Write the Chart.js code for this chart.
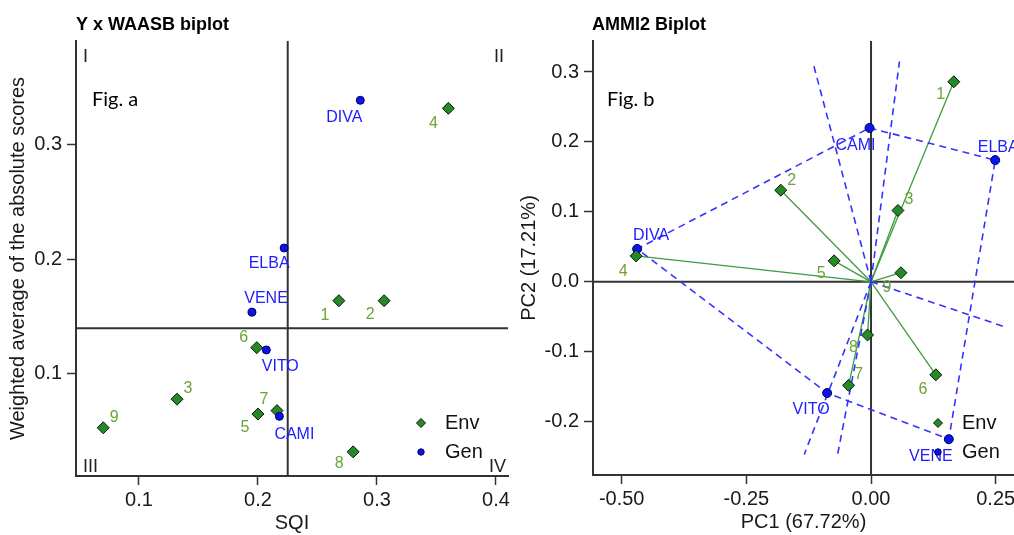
<!DOCTYPE html>
<html>
<head>
<meta charset="utf-8">
<script src="https://cdn.jsdelivr.net/npm/chart.js@4.4.1/dist/chart.umd.min.js"></script>
<style>
  html, body { margin: 0; padding: 0; background: #fff; overflow: hidden; }
  #wrap { position: relative; width: 1014px; height: 535px; overflow: hidden; }
  #left { position: absolute; left: 0; top: 0; }
  #right { position: absolute; left: 512px; top: 0; }
</style>
</head>
<body>
<div id="wrap">
  <canvas id="left" width="520" height="535"></canvas>
  <canvas id="right" width="540" height="535"></canvas>
</div>
<script>
/* ---------- Fig. a : Y x WAASB biplot ---------- */
const genNames = ['CAMI', 'DIVA', 'ELBA', 'VENE', 'VITO'];
const envNames = ['1', '2', '3', '4', '5', '6', '7', '8', '9'];

const genSQI   = [0.218, 0.286, 0.222, 0.195, 0.207];
const genWAASB = [0.063, 0.339, 0.210, 0.154, 0.121];
const envSQI   = [0.268, 0.306, 0.132, 0.360, 0.200, 0.199, 0.216, 0.280, 0.070];
const envWAASB = [0.164, 0.164, 0.078, 0.332, 0.065, 0.123, 0.068, 0.032, 0.053];
const meanSQI = 0.225;
const meanWAASB = 0.140;

const sqiTicks = [0.1, 0.2, 0.3, 0.4];
const sqiTickLabels = ['0.1', '0.2', '0.3', '0.4'];
const waasbTicks = [0.1, 0.2, 0.3];
const waasbTickLabels = ['0.1', '0.2', '0.3'];
const quadrantLabels = ['I', 'II', 'III', 'IV'];

/* ---------- Fig. b : AMMI2 biplot ---------- */
const genPC1 = [-0.003, -0.469, 0.249, 0.156, -0.088];
const genPC2 = [0.220, 0.047, 0.174, -0.225, -0.159];
const envPC1 = [0.166, -0.181, 0.054, -0.471, -0.074, 0.130, -0.045, -0.007, 0.060];
const envPC2 = [0.286, 0.131, 0.102, 0.037, 0.030, -0.133, -0.148, -0.076, 0.013];
const hullOrder = ['CAMI', 'ELBA', 'VENE', 'VITO', 'DIVA', 'CAMI'];
const rayPC1 = [0.057, -0.117, -0.134, -0.067, 0.271];
const rayPC2 = [0.315, 0.315, -0.247, -0.247, -0.065];

const pc1Ticks = [-0.5, -0.25, 0, 0.25];
const pc1TickLabels = ['-0.50', '-0.25', '0.00', '0.25'];
const pc2Ticks = [-0.2, -0.1, 0, 0.1, 0.2, 0.3];
const pc2TickLabels = ['-0.2', '-0.1', '0.0', '0.1', '0.2', '0.3'];

// label offsets (text centre relative to the marker, px)
const leftGenOffsets = [[15, 18], [-16, 17], [-15, 16], [14, -14], [14, 17]];
const leftEnvOffsets = [[-14, 15], [-14, 14], [11, -11], [-15, 15], [-13, 14], [-13, -10], [-13, -11], [-14, 12], [11, -10]];
const rightGenOffsets = [[-14, 18], [14, -13], [3, -13], [-18, 17], [-16, 17]];
const rightEnvOffsets = [[-13, 13], [11, -10], [11, -11], [-13, 16], [-13, 13], [-13, 15], [10, -11], [-14, 13], [-14, 15]];

const FONT = "Arial, 'Liberation Sans', sans-serif";
const GREEN = '#238b23';
const ENV_TXT = '#6aa33a';
const GEN_TXT = '#2020ff';
const BLUE = '#0a14f0';
const AXIS = '#333';

Chart.defaults.font.family = FONT;
Chart.defaults.animation = false;

function axis(o) {
  return {
    type: 'linear',
    min: o.min,
    max: o.max,
    afterBuildTicks: s => { s.ticks = o.ticks.map(v => ({ value: v })); },
    afterFit: s => {
      if (o.width) s.width = o.width;
      if (o.height) s.height = o.height;
    },
    ticks: {
      callback: (v) => o.labels[o.ticks.findIndex(t => Math.abs(t - v) < 1e-9)],
      color: '#1a1a1a', font: { family: FONT, size: 20 }, padding: o.pad,
      maxRotation: 0, autoSkip: false
    },
    grid: { drawOnChartArea: false, drawTicks: true, tickLength: 9, tickColor: AXIS, tickWidth: 1.5 },
    border: { display: true, color: AXIS, width: 2 },
    title: { display: true, text: o.title, color: '#1a1a1a', font: { family: FONT, size: 20 }, padding: o.titlePad }
  };
}

function seg(x1, y1, x2, y2, style) {
  return Object.assign({
    data: [{ x: x1, y: y1 }, { x: x2, y: y2 }],
    showLine: true, pointRadius: 0, fill: false
  }, style);
}

function diamond(ctx, x, y, r) {
  ctx.beginPath();
  ctx.moveTo(x, y - r); ctx.lineTo(x + r, y); ctx.lineTo(x, y + r); ctx.lineTo(x - r, y);
  ctx.closePath(); ctx.fill(); ctx.stroke();
}
function dot(ctx, x, y, r) {
  ctx.beginPath(); ctx.arc(x, y, r, 0, Math.PI * 2); ctx.fill(); ctx.stroke();
}

function textPlugin(cfg) {
  return {
    id: 'texts',
    afterDatasetsDraw(chart) {
      const ctx = chart.ctx, xs = chart.scales.x, ys = chart.scales.y;
      ctx.save();
      ctx.textAlign = 'center';
      ctx.textBaseline = 'middle';
      ctx.font = '16px ' + FONT;
      ctx.fillStyle = GEN_TXT;
      genNames.forEach((n, i) => {
        const o = cfg.genOff[i];
        ctx.fillText(n, xs.getPixelForValue(cfg.gx[i]) + o[0], ys.getPixelForValue(cfg.gy[i]) + o[1]);
      });
      ctx.fillStyle = ENV_TXT;
      envNames.forEach((n, i) => {
        const o = cfg.envOff[i];
        ctx.fillText(n, xs.getPixelForValue(cfg.ex[i]) + o[0], ys.getPixelForValue(cfg.ey[i]) + o[1]);
      });

      // panel title + figure tag
      ctx.textAlign = 'left';
      ctx.textBaseline = 'alphabetic';
      ctx.fillStyle = '#000';
      ctx.font = 'bold 18px ' + FONT;
      ctx.fillText(cfg.title, cfg.titleX, 30);
      ctx.font = "20px Lato, 'Open Sans', sans-serif";
      ctx.fillText(cfg.tag, cfg.tagX, 106);

      // legend
      const lx = cfg.legendX, ly = cfg.legendY;
      ctx.lineWidth = 1;
      ctx.fillStyle = GREEN; ctx.strokeStyle = '#111';
      diamond(ctx, lx, ly, 4.5);
      ctx.fillStyle = BLUE; ctx.strokeStyle = '#000050';
      dot(ctx, lx, ly + 29, 3.2);
      ctx.fillStyle = '#111';
      ctx.font = '20px ' + FONT;
      ctx.textBaseline = 'middle';
      ctx.fillText('Env', lx + 24, ly);
      ctx.fillText('Gen', lx + 24, ly + 29);

      if (cfg.quadrants) {
        const a = chart.chartArea;
        ctx.font = '18px ' + FONT;
        ctx.fillStyle = '#222';
        ctx.textBaseline = 'alphabetic';
        ctx.textAlign = 'left';
        ctx.fillText(quadrantLabels[0], a.left + 7, 62);
        ctx.fillText(quadrantLabels[2], a.left + 7, 472);
        ctx.textAlign = 'right';
        ctx.fillText(quadrantLabels[1], a.right - 4, 62);
        ctx.fillText(quadrantLabels[3], a.right - 2, 472);
      }
      ctx.restore();
    }
  };
}

/* ---------- left chart ---------- */
const lx = { min: 0.0471, max: 0.4101 };
const ly = { min: 0.0109, max: 0.3908 };

new Chart(document.getElementById('left'), {
  type: 'scatter',
  data: {
    datasets: [
      { label: 'Gen', data: genSQI.map((x, i) => ({ x, y: genWAASB[i] })), pointStyle: 'circle',
        pointRadius: 4, backgroundColor: BLUE, borderColor: '#000050', borderWidth: 1, order: 0 },
      { label: 'Env', data: envSQI.map((x, i) => ({ x, y: envWAASB[i] })), pointStyle: 'rectRot',
        pointRadius: 6, backgroundColor: GREEN, borderColor: '#111', borderWidth: 1, order: 1 },
      seg(meanSQI, ly.min, meanSQI, ly.max, { borderColor: AXIS, borderWidth: 2, order: 5 }),
      seg(lx.min, meanWAASB, lx.max, meanWAASB, { borderColor: AXIS, borderWidth: 2, order: 5 })
    ]
  },
  options: {
    responsive: false,
    devicePixelRatio: 1,
    events: [],
    layout: { padding: { left: 0, right: 12, top: 41, bottom: 0 } },
    plugins: { legend: { display: false }, tooltip: { enabled: false } },
    scales: {
      x: axis({ min: lx.min, max: lx.max, ticks: sqiTicks, labels: sqiTickLabels, height: 59, pad: 3,
                title: 'SQI', titlePad: { top: 0, bottom: 0 } }),
      y: axis({ min: ly.min, max: ly.max, ticks: waasbTicks, labels: waasbTickLabels, width: 76, pad: 5,
                title: 'Weighted average of the absolute scores', titlePad: { top: 6, bottom: 0 } })
    }
  },
  plugins: [textPlugin({
    gx: genSQI, gy: genWAASB, ex: envSQI, ey: envWAASB,
    genOff: leftGenOffsets, envOff: leftEnvOffsets,
    title: 'Y x WAASB biplot', titleX: 76, tag: 'Fig. a', tagX: 92,
    legendX: 421, legendY: 423, quadrants: true
  })]
});

/* ---------- right chart ---------- */
const rx = { min: -0.5575, max: 0.2867 };
const ry = { min: -0.2762, max: 0.3443 };
const gi = n => genNames.indexOf(n);
const dashed = { borderColor: '#3333ff', borderWidth: 1.6, borderDash: [7, 5], order: 4 };

new Chart(document.getElementById('right'), {
  type: 'scatter',
  data: {
    datasets: [
      { label: 'Env', data: envPC1.map((x, i) => ({ x, y: envPC2[i] })), pointStyle: 'rectRot',
        pointRadius: 6, backgroundColor: GREEN, borderColor: '#111', borderWidth: 1, order: 0 },
      { label: 'Gen', data: genPC1.map((x, i) => ({ x, y: genPC2[i] })), pointStyle: 'circle',
        pointRadius: 4.5, backgroundColor: BLUE, borderColor: '#000050', borderWidth: 1, order: 1 },
      Object.assign({ data: hullOrder.map(n => ({ x: genPC1[gi(n)], y: genPC2[gi(n)] })),
        showLine: true, pointRadius: 0, fill: false }, dashed),
      ...rayPC1.map((x, i) => seg(0, 0, x, rayPC2[i], dashed)),
      ...envPC1.map((x, i) => seg(0, 0, x, envPC2[i], { borderColor: '#3f9b3f', borderWidth: 1.3, order: 6 })),
      seg(0, ry.min, 0, ry.max, { borderColor: AXIS, borderWidth: 2, order: 8 }),
      seg(rx.min, 0, rx.max, 0, { borderColor: AXIS, borderWidth: 2, order: 8 })
    ]
  },
  options: {
    responsive: false,
    devicePixelRatio: 1,
    events: [],
    layout: { padding: { left: 0, right: 38, top: 41, bottom: 0 } },
    plugins: { legend: { display: false }, tooltip: { enabled: false } },
    scales: {
      x: axis({ min: rx.min, max: rx.max, ticks: pc1Ticks, labels: pc1TickLabels, height: 60, pad: 3,
                title: 'PC1 (67.72%)', titlePad: { top: 0, bottom: 1 } }),
      y: axis({ min: ry.min, max: ry.max, ticks: pc2Ticks, labels: pc2TickLabels, width: 81, pad: 5,
                title: 'PC2 (17.21%)', titlePad: { top: 5, bottom: 0 } })
    }
  },
  plugins: [textPlugin({
    gx: genPC1, gy: genPC2, ex: envPC1, ey: envPC2,
    genOff: rightGenOffsets, envOff: rightEnvOffsets,
    title: 'AMMI2 Biplot', titleX: 80, tag: 'Fig. b', tagX: 95,
    legendX: 426, legendY: 423, quadrants: false
  })]
});
</script>
</body>
</html>
